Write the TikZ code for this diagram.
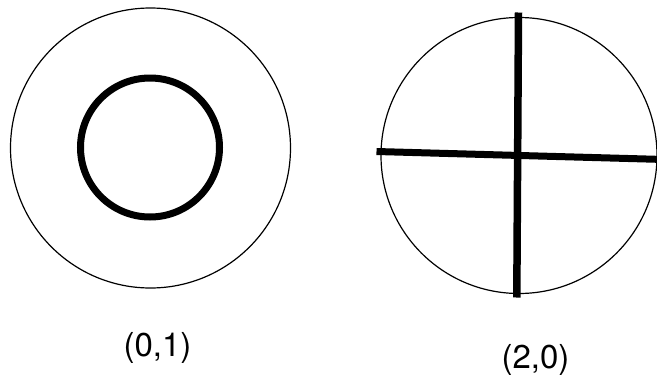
\documentclass[tikz,border=0pt]{standalone}
\usepackage{fontspec}
\setmainfont{TeX Gyre Heros}
\usetikzlibrary{positioning}

\begin{document}
\begin{tikzpicture}[x=1pt, y=-1pt,
    every node/.style={font=\fontsize{33}{38}\selectfont},
    ring/.style={draw, circle, line width=1.2pt, inner sep=0pt},
    bar/.style={line width=7.5pt}]
    \useasboundingbox (0,0) rectangle (657,381);
    \node[ring, minimum size=280pt] (outerA) at (150.5,148) {};
    \node[ring, line width=7pt, minimum size=139pt] (innerA) at (150,147.5) {};
    \node[ring, minimum size=276pt] (outerB) at (519,155.5) {};
    \coordinate (vTop) at (518.5,12.5);
    \coordinate (vBot) at (516.8,297.5);
    \coordinate (hLeft) at (376.5,151.5);
    \coordinate (hRight) at (657,159.3);
    \draw[bar] (vTop) -- (vBot);
    \draw[bar, line width=7pt] (hLeft) -- (hRight);
    \node (labelA) at (157.5,348) {(0,1)};
    \node (labelB) at (535.5,360) {(2,0)};
  \end{tikzpicture}
\end{document}
